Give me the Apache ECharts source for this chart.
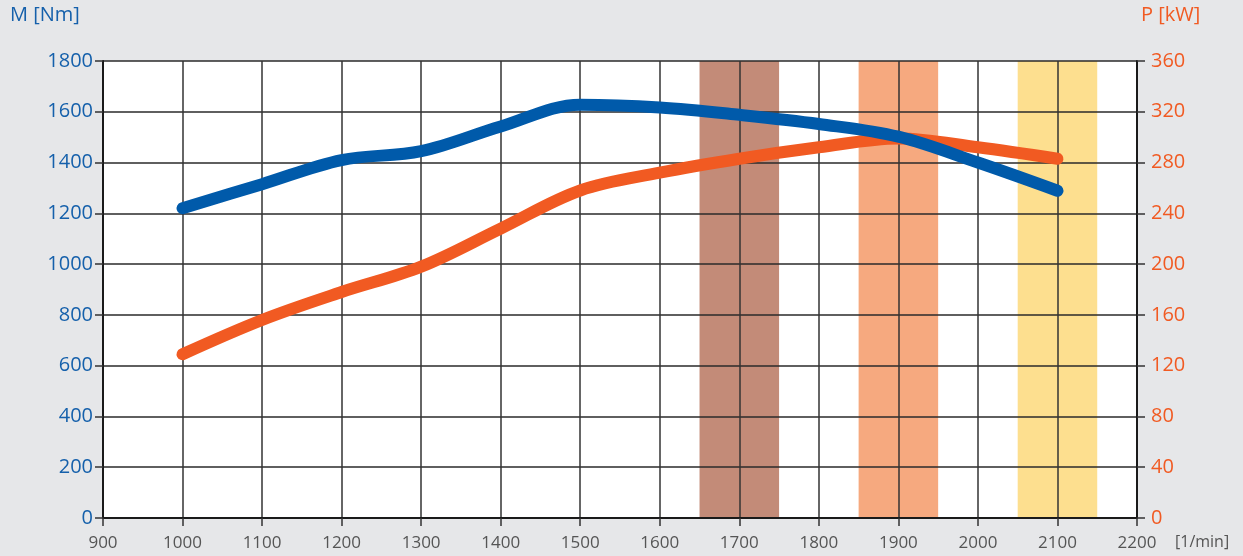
<!DOCTYPE html>
<html>
<head>
<meta charset="utf-8">
<script src="https://cdn.jsdelivr.net/npm/echarts@6/dist/echarts.min.js"></script>
<style>
html,body{margin:0;padding:0;background:#e6e7e9;}
#c{width:1243px;height:556px;}
</style>
</head>
<body>
<div id="c"></div>
<script>
const rpm = [1000, 1100, 1200, 1300, 1400, 1500, 1600, 1700, 1800, 1900, 2000, 2100];
const torqueNm = [1220, 1315, 1410, 1445, 1542, 1628, 1617, 1588, 1552, 1502, 1400, 1289];
const powerKW = [129, 156, 178, 198, 228, 258, 272, 283, 292, 299, 292, 283];
const bands = [[1650, 1750, '#c38b78'], [1850, 1950, '#f6a97f'], [2050, 2150, '#fddf8f']];
const leftTicks = [0, 200, 400, 600, 800, 1000, 1200, 1400, 1600, 1800];
const rightTicks = [0, 40, 80, 120, 160, 200, 240, 280, 320, 360];
const xTicks = [900, 1000, 1100, 1200, 1300, 1400, 1500, 1600, 1700, 1800, 1900, 2000, 2100, 2200];

const FONT = '"Open Sans", "Noto Sans", sans-serif';
const plain = v => String(v);
const chart = echarts.init(document.getElementById('c'), null, {renderer: 'canvas'});
const option = {
  backgroundColor: '#e6e7e9',
  animation: false,
  grid: {left: 103, right: 106, top: 61, bottom: 38, show: true, backgroundColor: '#ffffff', borderWidth: 0, z: 0},
  xAxis: {
    type: 'value', min: xTicks[0], max: xTicks[xTicks.length - 1], interval: 100, z: 2,
    axisLine: {show: true, lineStyle: {color: '#1a1a1a', width: 2}},
    axisTick: {show: true, length: 8, lineStyle: {color: '#333', width: 1.5}},
    axisLabel: {color: '#555', fontSize: 17, fontFamily: FONT, margin: 17, formatter: plain},
    splitLine: {show: true, lineStyle: {color: '#333', width: 1.5}}
  },
  yAxis: [{
    type: 'value', min: leftTicks[0], max: leftTicks[leftTicks.length - 1], interval: 200, z: 2,
    axisLine: {show: true, lineStyle: {color: '#1a1a1a', width: 2}},
    axisTick: {show: true, length: 8, lineStyle: {color: '#333', width: 1.5}},
    axisLabel: {color: '#1560ab', fontSize: 20, fontFamily: FONT, margin: 10, formatter: plain},
    splitLine: {show: true, lineStyle: {color: '#2a2a2a', width: 1.5}}
  }, {
    type: 'value', min: rightTicks[0], max: rightTicks[rightTicks.length - 1], interval: 40, position: 'right', z: 2,
    axisLine: {show: true, lineStyle: {color: '#1a1a1a', width: 2}},
    axisTick: {show: true, length: 8, lineStyle: {color: '#333', width: 1.5}},
    axisLabel: {color: '#f15a22', fontSize: 20, fontFamily: FONT, margin: 14, formatter: plain},
    splitLine: {show: false}
  }],
  graphic: [
    {type: 'text', left: 10, top: 5, style: {text: 'M [Nm]', fill: '#1560ab', font: '20px ' + FONT}},
    {type: 'text', left: 1141, top: 5, style: {text: 'P [kW]', fill: '#f15a22', font: '20px ' + FONT}},
    {type: 'text', left: 1175, top: 534, style: {text: '[1/min]', fill: '#555', font: '16px ' + FONT}}
  ],
  series: [{
    type: 'line', data: [], z: 1, silent: true,
    markArea: {
      silent: true,
      data: bands.map(b => [{xAxis: b[0], itemStyle: {color: b[2], opacity: 1}}, {xAxis: b[1]}])
    }
  }, {
    name: 'P', type: 'line', yAxisIndex: 1, z: 3, showSymbol: false, smooth: 0.35,
    data: rpm.map((r, i) => [r, powerKW[i]]),
    lineStyle: {color: '#f15a22', width: 12, cap: 'round'}
  }, {
    name: 'M', type: 'line', yAxisIndex: 0, z: 4, showSymbol: false, smooth: 0.35,
    data: rpm.map((r, i) => [r, torqueNm[i]]),
    lineStyle: {color: '#005aaa', width: 12, cap: 'round'}
  }]
};
chart.setOption(option);
</script>
</body>
</html>
